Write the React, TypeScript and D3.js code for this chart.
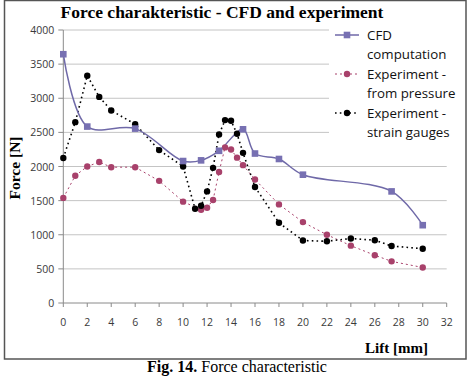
import React from "react";
import * as d3 from "d3";

// Lift [mm] and force [N] readings
const cfdLift = [0, 2, 6, 10, 11.5, 13, 15, 16, 18, 20, 27.4, 30];
const cfdForce = [3645, 2585, 2555, 2080, 2090, 2230, 2545, 2190, 2110, 1880, 1635, 1140];

const pressureLift = [0, 1, 2, 3, 4, 6, 8, 10, 11.5, 12, 12.5, 13, 13.5, 14, 14.5, 15, 16, 18, 20, 22, 24, 26, 27.4, 30];
const pressureForce = [1540, 1865, 2000, 2065, 1990, 1990, 1790, 1485, 1365, 1395, 1510, 1920, 2280, 2250, 2130, 2020, 1810, 1445, 1185, 1000, 840, 700, 610, 520];

const gaugeLift = [0, 1, 2, 3, 4, 6, 8, 10, 11, 11.5, 12, 12.5, 13, 13.5, 14, 14.5, 15, 16, 18, 20, 22, 24, 26, 27.4, 30];
const gaugeForce = [2125, 2650, 3330, 3020, 2820, 2620, 2240, 2000, 1380, 1425, 1635, 1980, 2470, 2680, 2670, 2480, 2200, 1700, 1175, 915, 905, 945, 920, 835, 795];

const xTicks = d3.range(0, 33, 2);
const yTicks = d3.range(0, 4001, 500);

const legendLabels = [
  ["CFD", "computation"],
  ["Experiment -", "from pressure"],
  ["Experiment -", "strain gauges"],
];

const W = 470;
const H = 376;
const m = { left: 63.3, right: 446.7, top: 30, bottom: 303 };

const cfdColor = "#6f69a8";
const pressColor = "#a8416b";
const gaugeColor = "#000000";
const tickFont = "'Open Sans', sans-serif";
const serif = "'Liberation Serif', 'Times New Roman', serif";

type Pt = [number, number];
const zip = (xs: number[], ys: number[]): Pt[] => xs.map((x, i) => [x, ys[i]]);

export default function App() {
  const x = d3.scaleLinear().domain([0, 32]).range([m.left, m.right]);
  const y = d3.scaleLinear().domain([0, 4000]).range([m.bottom, m.top]);

  const cfd = zip(cfdLift, cfdForce);
  const press = zip(pressureLift, pressureForce);
  const gauge = zip(gaugeLift, gaugeForce);

  const smooth = d3.line<Pt>().x(d => x(d[0])).y(d => y(d[1])).curve(d3.curveCatmullRom.alpha(0.5));
  const straight = d3.line<Pt>().x(d => x(d[0])).y(d => y(d[1]));

  const legendX = 333;
  const legendRows = [35, 74, 113];

  return (
    <div style={{ position: "absolute", left: 0, top: 0 }}>
      <svg width={W} height={H} style={{ display: "block", background: "#fff" }}>
        {/* frame around the chart */}
        <rect x={4.5} y={0.5} width={461.5} height={358.5} fill="none" stroke="#555" strokeWidth={1.5} />

        <text x={222} y={18} textAnchor="middle" fontFamily={serif} fontWeight="bold" fontSize={17.5} fill="#000">
          Force charakteristic - CFD and experiment
        </text>

        {/* gridlines */}
        {yTicks.filter(t => t > 0).map(t => (
          <line key={t} x1={m.left} x2={m.right} y1={y(t)} y2={y(t)} stroke="#c4c4c4" strokeWidth={1} />
        ))}

        {/* legend background hides the grid behind it */}
        <rect x={329} y={m.top - 2} width={m.right - 329 + 1} height={112} fill="#fff" />

        {/* axes */}
        <line x1={m.left} x2={m.left} y1={m.top} y2={m.bottom} stroke="#8a8a8a" />
        <line x1={m.left} x2={m.right} y1={m.bottom} y2={m.bottom} stroke="#8a8a8a" />
        {yTicks.map(t => (
          <g key={t}>
            <line x1={m.left - 5} x2={m.left} y1={y(t)} y2={y(t)} stroke="#8a8a8a" />
            <text x={m.left - 9} y={y(t) + 4} textAnchor="end" fontFamily={tickFont} fontSize={10.5} fill="#3a3a3a">
              {t}
            </text>
          </g>
        ))}
        {xTicks.map(t => (
          <g key={t}>
            <line x1={x(t)} x2={x(t)} y1={m.bottom} y2={m.bottom + 4} stroke="#8a8a8a" />
            <text x={x(t)} y={m.bottom + 23} textAnchor="middle" fontFamily={tickFont} fontSize={10.5} fill="#3a3a3a">
              {t}
            </text>
          </g>
        ))}

        <text transform={`translate(20,168) rotate(-90)`} textAnchor="middle" fontFamily={serif} fontWeight="bold" fontSize={15.5} fill="#000">
          Force [N]
        </text>
        <text x={428} y={353} textAnchor="end" fontFamily={serif} fontWeight="bold" fontSize={15} fill="#000">
          Lift [mm]
        </text>

        {/* series */}
        <path d={straight(press) ?? ""} fill="none" stroke={pressColor} strokeWidth={1} strokeDasharray="2 3" />
        <path d={straight(gauge) ?? ""} fill="none" stroke={gaugeColor} strokeWidth={1.6} strokeDasharray="1.6 3.2" />
        <path d={smooth(cfd) ?? ""} fill="none" stroke={cfdColor} strokeWidth={1.5} />

        {press.map((d, i) => (
          <circle key={i} cx={x(d[0])} cy={y(d[1])} r={3.2} fill={pressColor} />
        ))}
        {gauge.map((d, i) => (
          <circle key={i} cx={x(d[0])} cy={y(d[1])} r={3.2} fill={gaugeColor} />
        ))}
        {cfd.map((d, i) => (
          <rect key={i} x={x(d[0]) - 3.3} y={y(d[1]) - 3.3} width={6.6} height={6.6} fill="#7770b2" />
        ))}

        {/* legend */}
        {legendLabels.map((lines, i) => {
          const ly = legendRows[i];
          const sx = legendX + 14;
          return (
            <g key={i}>
              {i === 0 ? (
                <>
                  <line x1={legendX + 2} x2={legendX + 26} y1={ly} y2={ly} stroke={cfdColor} strokeWidth={1.5} />
                  <rect x={sx - 3.3} y={ly - 3.3} width={6.6} height={6.6} fill="#7770b2" />
                </>
              ) : (
                <>
                  <line x1={legendX + 2} x2={legendX + 26} y1={ly} y2={ly}
                    stroke={i === 1 ? pressColor : gaugeColor} strokeWidth={i === 1 ? 1 : 1.6}
                    strokeDasharray={i === 1 ? "2 3" : "1.6 3.2"} />
                  <circle cx={sx} cy={ly} r={3.2} fill={i === 1 ? pressColor : gaugeColor} />
                </>
              )}
              {lines.map((s, j) => (
                <text key={j} x={legendX + 34} y={ly + 5 + j * 19} fontFamily={tickFont} fontSize={13.3} fill="#111">
                  {s}
                </text>
              ))}
            </g>
          );
        })}

        {/* caption under the frame */}
        <text x={237} y={372} textAnchor="middle" fontFamily={serif} fontSize={16} fill="#000">
          <tspan fontWeight="bold">Fig. 14.</tspan> Force characteristic
        </text>
      </svg>
    </div>
  );
}
